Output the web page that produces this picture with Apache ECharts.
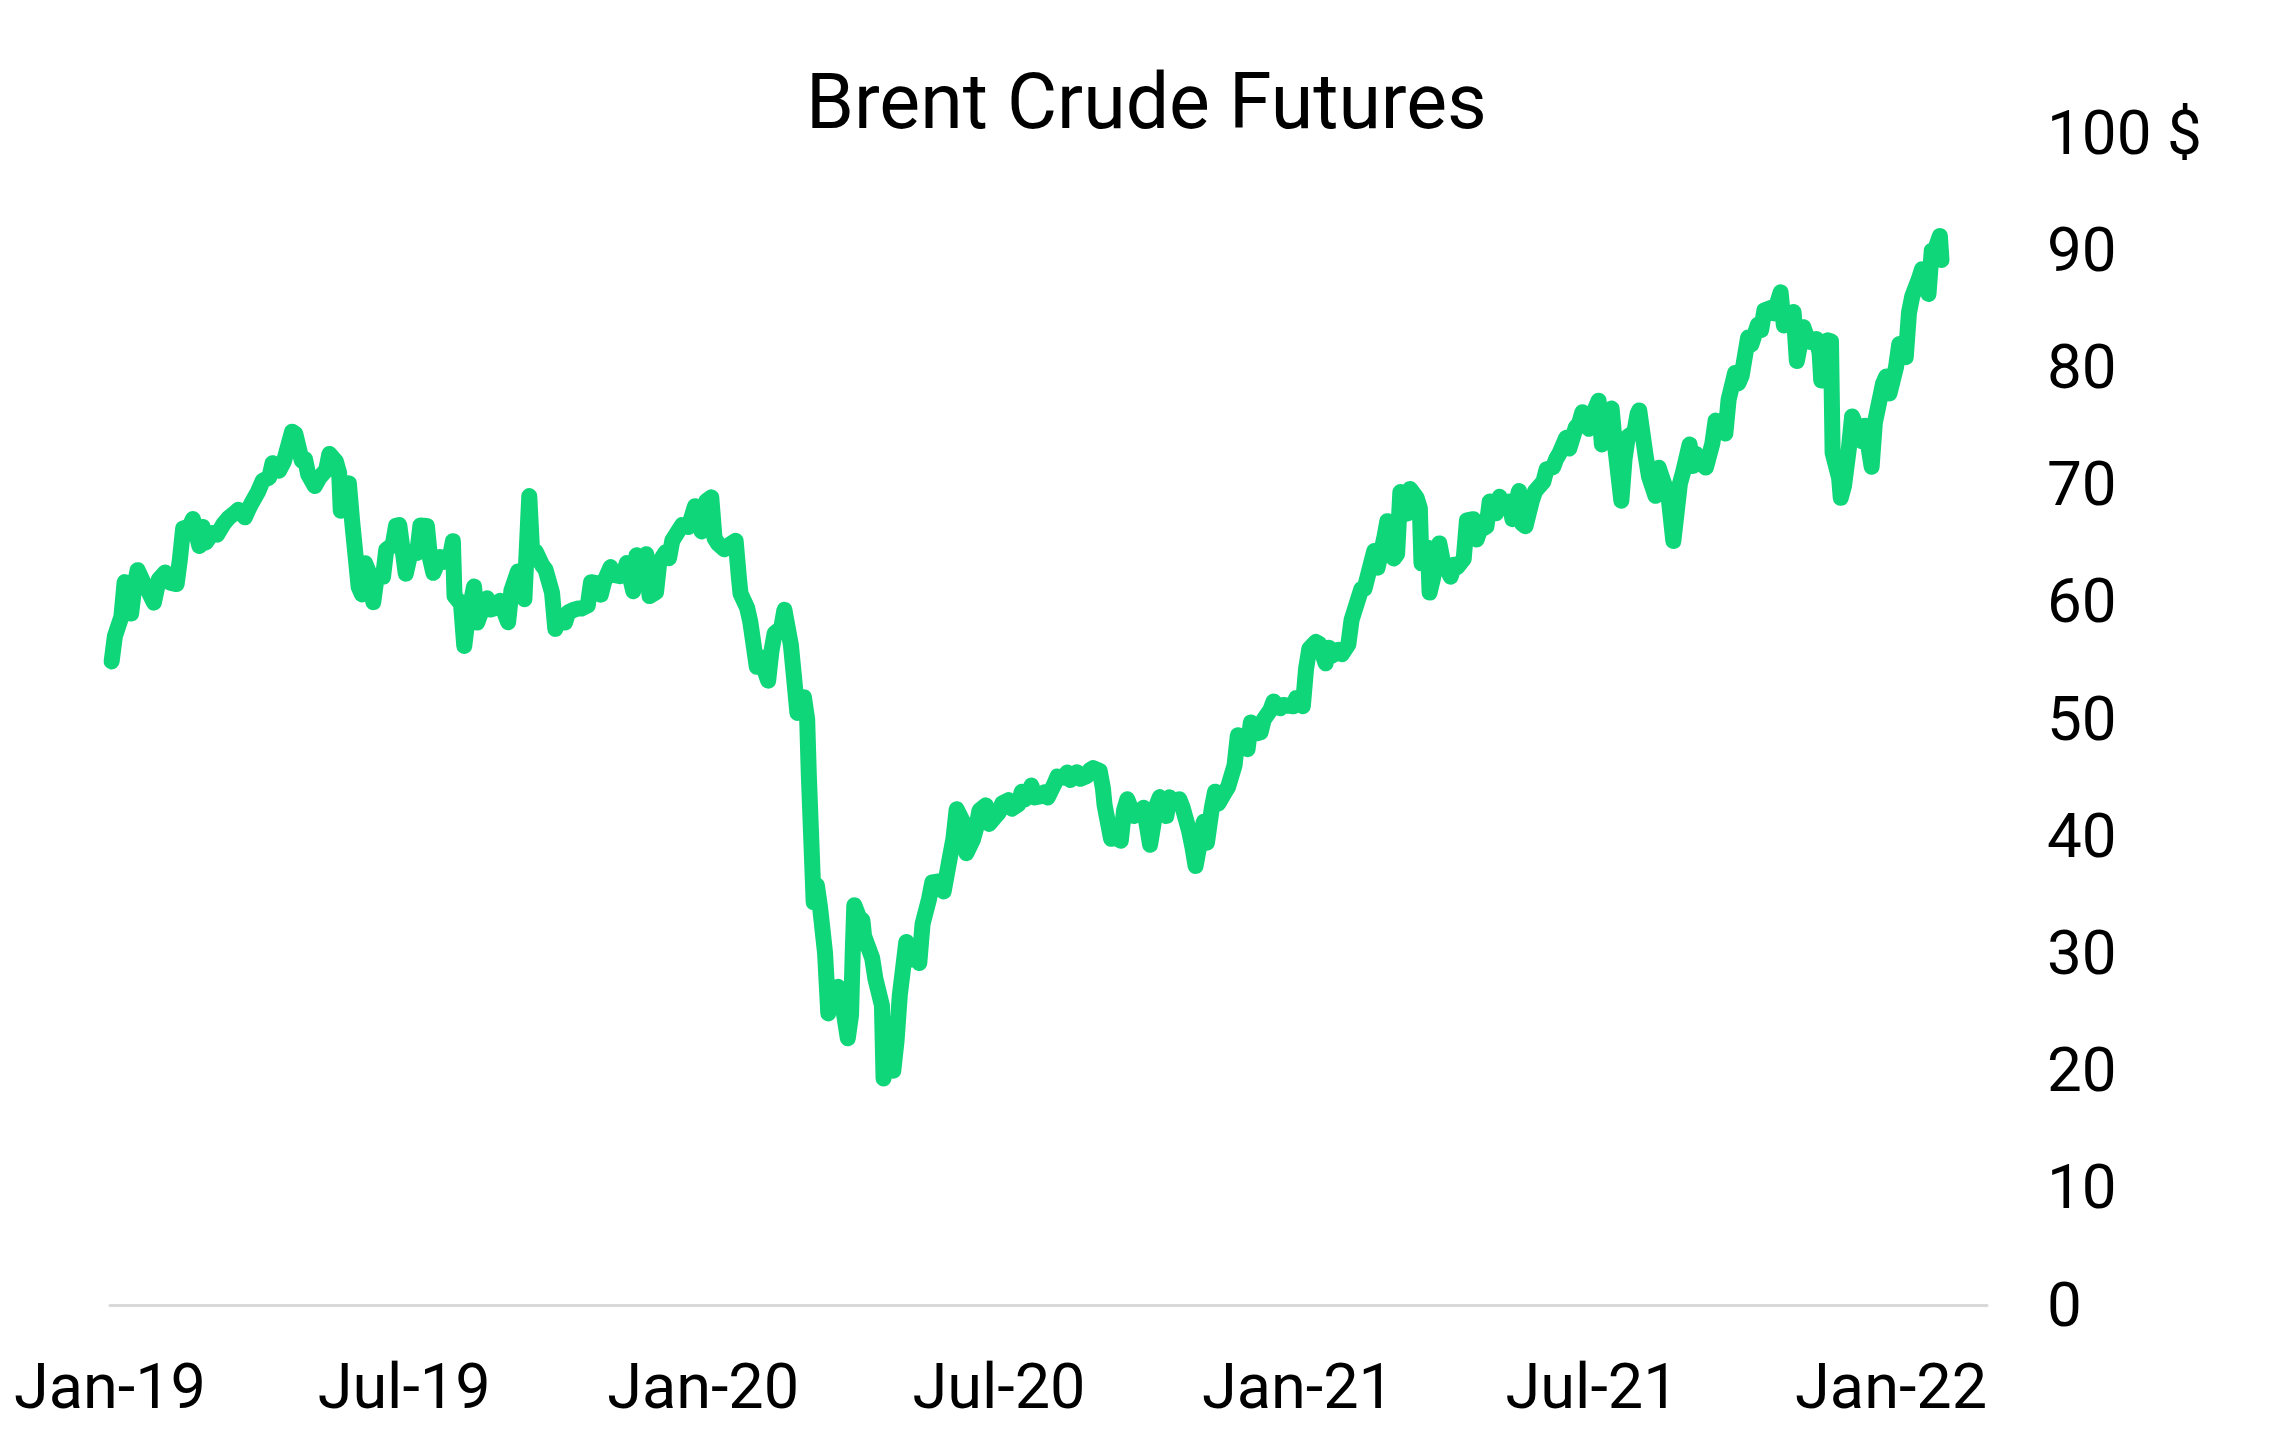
<!DOCTYPE html>
<html>
<head>
<meta charset="utf-8">
<script src="https://cdn.jsdelivr.net/npm/echarts@6/dist/echarts.min.js"></script>
<style>
  html, body { margin: 0; padding: 0; background: #ffffff; }
  #chart { width: 2271px; height: 1448px; }
</style>
</head>
<body>
<div id="chart"></div>
<script>
const chartTitle = 'Brent Crude Futures';

const dates = [
  '2019-01-02','2019-01-04','2019-01-08','2019-01-10','2019-01-14','2019-01-16','2019-01-18','2019-01-22','2019-01-24','2019-01-28','2019-01-31',
  '2019-02-04','2019-02-07','2019-02-11','2019-02-13','2019-02-15','2019-02-19','2019-02-21','2019-02-25','2019-02-27',
  '2019-03-01','2019-03-05','2019-03-08','2019-03-12','2019-03-15','2019-03-19','2019-03-21','2019-03-25','2019-03-27','2019-03-29',
  '2019-04-02','2019-04-05','2019-04-09','2019-04-11','2019-04-15','2019-04-18','2019-04-23','2019-04-25','2019-04-29',
  '2019-05-01','2019-05-03','2019-05-07','2019-05-10','2019-05-14','2019-05-16','2019-05-20','2019-05-22','2019-05-23','2019-05-28','2019-05-30',
  '2019-06-03','2019-06-05','2019-06-07','2019-06-10','2019-06-12','2019-06-14','2019-06-18','2019-06-20','2019-06-24','2019-06-26','2019-06-28',
  '2019-07-02','2019-07-05','2019-07-09','2019-07-11','2019-07-15','2019-07-17','2019-07-19','2019-07-23','2019-07-25','2019-07-29','2019-07-31',
  '2019-08-01','2019-08-05','2019-08-07','2019-08-09','2019-08-13','2019-08-15','2019-08-19','2019-08-21','2019-08-23','2019-08-27','2019-08-29',
  '2019-09-03','2019-09-05','2019-09-09','2019-09-11','2019-09-13','2019-09-16','2019-09-18','2019-09-20','2019-09-24','2019-09-26','2019-09-30',
  '2019-10-02','2019-10-04','2019-10-08','2019-10-10','2019-10-14','2019-10-16','2019-10-18','2019-10-22','2019-10-24','2019-10-28','2019-10-30',
  '2019-11-01','2019-11-05','2019-11-07','2019-11-11','2019-11-13','2019-11-15','2019-11-19','2019-11-21','2019-11-25','2019-11-27','2019-11-29',
  '2019-12-03','2019-12-05','2019-12-09','2019-12-11','2019-12-13','2019-12-17','2019-12-19','2019-12-23','2019-12-27','2019-12-31',
  '2020-01-03','2020-01-06','2020-01-08','2020-01-10','2020-01-14','2020-01-16','2020-01-17','2020-01-21','2020-01-23','2020-01-24','2020-01-28','2020-01-30',
  '2020-02-03','2020-02-05','2020-02-07','2020-02-10','2020-02-12','2020-02-14','2020-02-18','2020-02-20','2020-02-24','2020-02-26','2020-02-28',
  '2020-03-03','2020-03-05','2020-03-06','2020-03-09','2020-03-11','2020-03-13','2020-03-16','2020-03-18','2020-03-20','2020-03-24','2020-03-26','2020-03-30',
  '2020-04-01','2020-04-02','2020-04-03','2020-04-06','2020-04-08','2020-04-09','2020-04-14','2020-04-16','2020-04-20','2020-04-21','2020-04-23','2020-04-27','2020-04-29',
  '2020-05-01','2020-05-05','2020-05-07','2020-05-11','2020-05-13','2020-05-15','2020-05-19','2020-05-21','2020-05-26','2020-05-28',
  '2020-06-01','2020-06-03','2020-06-05','2020-06-09','2020-06-11','2020-06-15','2020-06-17','2020-06-19','2020-06-23','2020-06-25','2020-06-29',
  '2020-07-01','2020-07-03','2020-07-07','2020-07-09','2020-07-13','2020-07-15','2020-07-17','2020-07-21','2020-07-23','2020-07-27','2020-07-29','2020-07-31',
  '2020-08-04','2020-08-06','2020-08-10','2020-08-12','2020-08-14','2020-08-18','2020-08-20','2020-08-24','2020-08-26','2020-08-28',
  '2020-09-01','2020-09-03','2020-09-04','2020-09-08','2020-09-10','2020-09-14','2020-09-16','2020-09-18','2020-09-22','2020-09-24','2020-09-28','2020-09-30',
  '2020-10-02','2020-10-06','2020-10-08','2020-10-12','2020-10-14','2020-10-16','2020-10-20','2020-10-22','2020-10-26','2020-10-28','2020-10-30',
  '2020-11-02','2020-11-04','2020-11-06','2020-11-09','2020-11-11','2020-11-13','2020-11-17','2020-11-19','2020-11-23','2020-11-25','2020-11-27',
  '2020-12-01','2020-12-03','2020-12-07','2020-12-09','2020-12-11','2020-12-15','2020-12-17','2020-12-21','2020-12-23','2020-12-29','2020-12-31',
  '2021-01-04','2021-01-06','2021-01-08','2021-01-12','2021-01-14','2021-01-18','2021-01-20','2021-01-22','2021-01-26','2021-01-28',
  '2021-02-01','2021-02-03','2021-02-05','2021-02-09','2021-02-11','2021-02-15','2021-02-17','2021-02-19','2021-02-23','2021-02-25',
  '2021-03-01','2021-03-03','2021-03-05','2021-03-09','2021-03-11','2021-03-15','2021-03-17','2021-03-18','2021-03-22','2021-03-23','2021-03-25','2021-03-29','2021-03-31',
  '2021-04-05','2021-04-07','2021-04-09','2021-04-13','2021-04-15','2021-04-19','2021-04-21','2021-04-23','2021-04-27','2021-04-29',
  '2021-05-03','2021-05-05','2021-05-07','2021-05-11','2021-05-13','2021-05-17','2021-05-19','2021-05-21','2021-05-25','2021-05-27',
  '2021-06-01','2021-06-03','2021-06-07','2021-06-09','2021-06-11','2021-06-15','2021-06-17','2021-06-21','2021-06-23','2021-06-25','2021-06-29',
  '2021-07-01','2021-07-05','2021-07-07','2021-07-09','2021-07-13','2021-07-15','2021-07-19','2021-07-21','2021-07-23','2021-07-27','2021-07-29','2021-07-30',
  '2021-08-03','2021-08-05','2021-08-09','2021-08-11','2021-08-13','2021-08-17','2021-08-19','2021-08-20','2021-08-24','2021-08-26','2021-08-30',
  '2021-09-01','2021-09-03','2021-09-07','2021-09-09','2021-09-13','2021-09-15','2021-09-17','2021-09-21','2021-09-23','2021-09-27','2021-09-29',
  '2021-10-01','2021-10-05','2021-10-07','2021-10-11','2021-10-13','2021-10-15','2021-10-19','2021-10-21','2021-10-25','2021-10-27','2021-10-29',
  '2021-11-02','2021-11-04','2021-11-08','2021-11-10','2021-11-12','2021-11-16','2021-11-18','2021-11-19','2021-11-23','2021-11-25','2021-11-26','2021-11-30',
  '2021-12-01','2021-12-03','2021-12-06','2021-12-08','2021-12-10','2021-12-14','2021-12-16','2021-12-20','2021-12-22','2021-12-27','2021-12-29','2021-12-31',
  '2022-01-04','2022-01-06','2022-01-10','2022-01-12','2022-01-14','2022-01-18','2022-01-20','2022-01-24','2022-01-26','2022-01-28','2022-01-31','2022-02-01'
];

const prices = [
  54.91,57.06,58.72,61.68,59.00,61.32,62.70,61.50,61.09,59.93,61.89,
  62.51,61.63,61.51,63.61,66.25,66.45,67.07,64.76,66.39,
  65.07,65.86,65.74,66.67,67.16,67.61,67.86,67.21,67.83,68.39,
  69.37,70.34,70.61,71.83,71.18,71.97,74.51,74.35,72.04,
  72.18,70.85,69.88,70.62,71.24,72.62,71.97,70.99,67.76,70.11,66.87,
  61.28,60.63,63.29,62.29,59.97,62.01,62.14,64.45,64.86,66.49,66.55,
  62.40,64.23,64.16,66.52,66.48,63.66,62.47,63.83,63.39,63.71,65.17,
  60.50,59.81,56.23,58.53,61.30,58.23,59.74,60.30,59.34,59.51,60.08,
  58.26,60.95,62.59,60.81,60.22,69.02,63.60,64.28,63.10,62.74,60.78,
  57.69,58.37,58.24,59.10,59.35,59.42,59.42,59.70,61.67,61.57,60.61,
  61.69,62.96,62.29,62.18,62.37,63.30,60.91,63.97,63.65,64.06,60.49,
  60.82,63.39,64.25,63.72,65.22,66.10,66.54,66.39,68.16,66.00,
  68.60,68.91,65.44,64.98,64.49,64.62,64.85,65.20,62.04,60.69,59.51,58.29,
  54.45,55.28,54.47,53.27,55.79,57.32,57.75,59.31,56.30,53.43,50.52,
  51.86,49.99,45.27,34.36,35.79,33.85,30.05,24.88,26.98,27.15,26.34,22.76,
  24.74,29.94,34.11,33.05,32.84,31.48,29.60,27.82,25.57,19.33,21.33,19.99,22.54,
  26.44,30.97,29.46,29.63,29.19,32.50,34.65,36.06,36.17,35.29,
  38.32,39.79,42.30,41.18,38.55,39.72,40.71,42.19,42.63,41.05,41.71,
  42.03,42.80,43.08,42.35,42.72,43.79,43.14,44.32,43.31,43.41,43.75,43.30,
  44.43,45.09,44.99,45.43,44.80,45.46,44.90,45.13,45.64,45.81,
  45.58,44.07,42.66,39.78,40.06,39.61,42.22,43.15,41.72,41.94,42.43,40.95,
  39.27,42.65,43.34,41.72,43.32,42.93,43.16,42.46,40.46,39.12,37.46,
  39.71,41.23,39.45,42.40,43.80,42.78,43.75,44.20,46.06,48.61,47.80,
  47.42,49.71,48.79,48.86,49.97,50.76,51.50,50.91,51.20,51.09,51.80,
  51.09,54.30,55.99,56.58,56.42,54.75,56.08,55.41,55.91,55.53,
  56.35,58.46,59.34,61.09,61.14,63.30,64.34,62.91,65.37,66.88,
  63.69,64.07,69.36,67.52,69.63,68.88,68.00,63.28,64.62,60.79,61.95,64.98,63.54,
  62.15,63.16,62.95,63.67,66.94,67.05,65.32,66.11,66.42,68.56,
  67.56,68.96,68.28,68.55,67.05,69.46,66.66,66.44,68.65,69.46,
  70.25,71.31,71.49,72.22,72.69,73.99,73.08,74.90,75.19,76.18,74.76,
  75.84,77.16,73.43,75.55,76.49,73.47,68.62,72.23,74.10,74.48,76.05,76.33,
  72.41,70.70,69.04,71.44,70.59,69.03,66.45,65.18,70.05,71.07,73.41,
  71.59,72.61,71.69,71.45,73.51,75.46,75.34,74.36,77.25,79.53,78.64,
  79.28,82.56,81.95,83.65,83.18,84.86,85.08,84.61,86.40,83.58,84.38,
  84.72,80.54,83.43,82.64,82.17,82.43,81.24,78.89,82.31,82.22,72.72,70.57,
  68.87,69.88,73.08,75.82,75.15,73.70,75.02,71.52,75.29,78.60,79.23,77.78,
  80.00,81.99,80.87,84.67,86.06,87.51,88.38,86.27,89.96,90.03,91.21,89.16
];

const xTickDates = ['2019-01-01','2019-07-01','2020-01-01','2020-07-01','2021-01-01','2021-07-01','2022-01-01'];
const xTickLabels = ['Jan-19','Jul-19','Jan-20','Jul-20','Jan-21','Jul-21','Jan-22'];
const xRange = ['2019-01-01','2022-03-01'];
const yTicks = [0,10,20,30,40,50,60,70,80,90,100];
const yUnit = '$';

const toTs = s => Date.parse(s + 'T00:00:00Z');
const tickTs = xTickDates.map(toTs);
const labelFor = v => {
  let best = '', bd = Infinity;
  tickTs.forEach((t, i) => { const d = Math.abs(t - v); if (d < bd) { bd = d; best = xTickLabels[i]; } });
  return bd < 86400000 ? best : '';
};

const chart = echarts.init(document.getElementById('chart'), null, { renderer: 'canvas' });
const FONT = 'Roboto';

chart.setOption({
  backgroundColor: '#ffffff',
  animation: false,
  title: {
    text: chartTitle,
    left: 801,
    top: 65,
    textStyle: { fontFamily: FONT, fontSize: 77, fontWeight: 'normal', color: '#000000' }
  },
  grid: { left: 110, right: 284, top: 133, bottom: 143, containLabel: false },
  xAxis: {
    type: 'value',
    min: toTs(xRange[0]),
    max: toTs(xRange[1]),
    axisLine: { show: true, onZero: false, lineStyle: { color: '#d9d9d9', width: 3 } },
    axisTick: { show: false },
    splitLine: { show: false },
    axisLabel: {
      customValues: tickTs,
      formatter: v => labelFor(v),
      fontFamily: FONT, fontSize: 63, color: '#000000', margin: 56,
      hideOverlap: false
    }
  },
  yAxis: {
    type: 'value',
    position: 'right',
    min: yTicks[0],
    max: yTicks[yTicks.length - 1],
    interval: 10,
    axisLine: { show: false },
    axisTick: { show: false },
    splitLine: { show: false },
    axisLabel: {
      fontFamily: FONT, fontSize: 62, color: '#000000', margin: 60, align: 'left',
      formatter: v => '{v|' + (v === yTicks[yTicks.length - 1] ? v + ' ' + yUnit : String(v)) + '}',
      rich: { v: { fontFamily: FONT, fontSize: 62, color: '#000000', padding: [10, 0, 0, 0] } }
    }
  },
  series: [{
    type: 'line',
    data: dates.map((d, i) => [toTs(d), prices[i]]),
    showSymbol: false,
    symbol: 'none',
    lineStyle: { color: '#0ed679', width: 16, cap: 'round', join: 'round' },
    z: 3
  }]
});
</script>
</body>
</html>
